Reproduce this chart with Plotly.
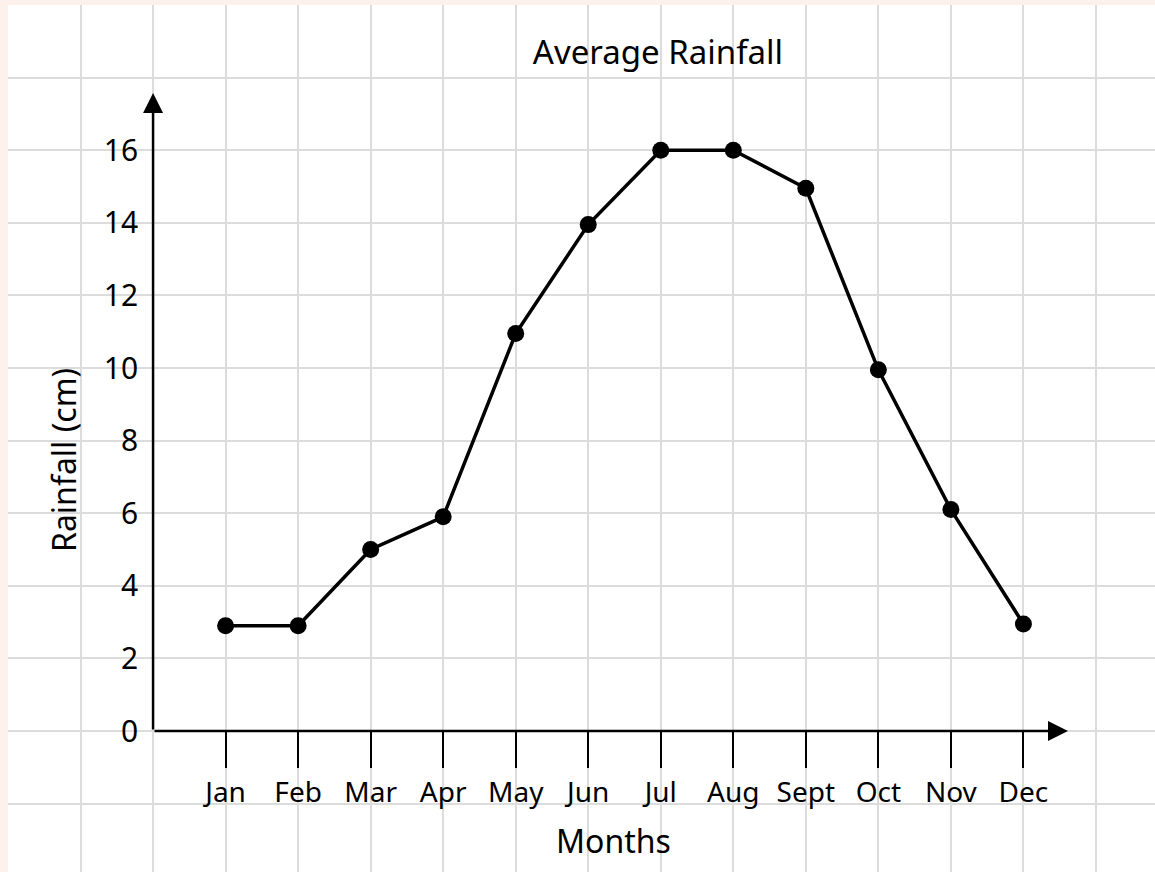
import plotly.graph_objects as go

# ---- data ----
months = ["Jan", "Feb", "Mar", "Apr", "May", "Jun", "Jul", "Aug", "Sept", "Oct", "Nov", "Dec"]
rainfall_cm = [2.9, 2.9, 5.0, 5.9, 10.95, 13.95, 16.0, 16.0, 14.95, 9.95, 6.1, 2.95]
y_tick_values = [0, 2, 4, 6, 8, 10, 12, 14, 16]
title_text = "Average Rainfall"
x_title_text = "Months"
y_title_text = "Rainfall (cm)"

# ---- layout geometry (pixels) ----
W, H = 1155, 872
ML, MT = 8, 5
PW, PH = W - ML, H - MT
UX = 72.53          # px per month (one grid square)
UY = 36.3           # px per rainfall unit (grid square = 2 units)
X0PX = ML + 2 * UX  # pixel of the y axis line
Y0PX = 731          # pixel of the x axis line
XEND_PX = 1068      # arrow tip of x axis
YTOP_PX = 93        # arrow tip of y axis
DOM_R_PX = 1085
DOM_T_PX = 80

FONT = "Noto Sans"

fig = go.Figure()

# invisible trace to activate the background grid subplot
fig.add_trace(go.Scatter(x=[0], y=[0], xaxis="x", yaxis="y", mode="markers",
                         marker=dict(opacity=0), hoverinfo="skip", showlegend=False))

# data line
fig.add_trace(go.Scatter(
    x=months, y=rainfall_cm, xaxis="x2", yaxis="y2",
    mode="lines+markers",
    line=dict(color="black", width=3.5),
    marker=dict(color="black", size=17),
    showlegend=False, cliponaxis=False,
))

grid_color = "#dcdcdc"
fig.update_layout(
    width=W, height=H,
    margin=dict(l=ML, r=0, t=MT, b=0, pad=0, autoexpand=False),
    paper_bgcolor="#fdf1ec",
    plot_bgcolor="rgba(0,0,0,0)",
    font=dict(family=FONT, color="black"),
    title=dict(text=title_text, x=658 / W, y=1 - 52 / H, xanchor="center", yanchor="middle",
               font=dict(size=33, family=FONT, color="black")),
    # background grid axes covering the whole page
    xaxis=dict(domain=[0, 1], range=[(ML - X0PX) / UX, (W - X0PX) / UX],
               tick0=0, dtick=1, showgrid=True, gridcolor=grid_color, gridwidth=2,
               showticklabels=False, zeroline=False, showline=False, ticks="", fixedrange=True,
               automargin=False),
    yaxis=dict(domain=[0, 1], range=[(Y0PX - H) / UY, (Y0PX - MT) / UY],
               tick0=0, dtick=2, showgrid=True, gridcolor=grid_color, gridwidth=2,
               showticklabels=False, zeroline=False, showline=False, ticks="", fixedrange=True,
               automargin=False),
    # data axes
    xaxis2=dict(domain=[(X0PX - ML) / PW, (DOM_R_PX - ML) / PW],
                type="category", categoryorder="array", categoryarray=months,
                range=[-1, (DOM_R_PX - X0PX) / UX - 1],
                anchor="y2", showgrid=False, zeroline=False, showline=False,
                ticks="outside", ticklen=36, tickwidth=1.5, tickcolor="black",
                tickfont=dict(size=28, family=FONT, color="black"), automargin=False),
    yaxis2=dict(domain=[(H - Y0PX) / PH, (H - DOM_T_PX) / PH],
                range=[0, (Y0PX - DOM_T_PX) / UY],
                anchor="x2", showgrid=False, zeroline=False, showline=False,
                tickvals=y_tick_values, ticks="", ticklabelstandoff=14,
                tickfont=dict(size=30, family=FONT, color="black"), automargin=False),
    shapes=[dict(type="rect", xref="paper", yref="paper", x0=0, x1=1, y0=0, y1=1,
                 fillcolor="white", line=dict(width=0), layer="below")],
)

# axis lines with arrowheads
x_tip = (XEND_PX - X0PX) / UX - 1
y_tip = (Y0PX - YTOP_PX) / UY
fig.add_annotation(x=x_tip, y=0, ax=-1, ay=0, xref="x2", yref="y2", axref="x2", ayref="y2",
                   text="", showarrow=True, arrowhead=2, arrowsize=1.6, arrowwidth=2.5,
                   arrowcolor="black", standoff=0)
fig.add_annotation(x=-1, y=y_tip, ax=-1, ay=0, xref="x2", yref="y2", axref="x2", ayref="y2",
                   text="", showarrow=True, arrowhead=2, arrowsize=1.6, arrowwidth=2.5,
                   arrowcolor="black", standoff=0)

# axis titles
fig.add_annotation(text=x_title_text, xref="paper", yref="paper",
                   x=(613 - ML) / PW, y=(H - 840) / PH, xanchor="center", yanchor="middle",
                   showarrow=False, font=dict(size=32, family=FONT, color="black"))
fig.add_annotation(text=y_title_text, xref="paper", yref="paper",
                   x=(63 - ML) / PW, y=(H - 460) / PH, xanchor="center", yanchor="middle",
                   textangle=-90, showarrow=False, font=dict(size=32, family=FONT, color="black"))

fig.write_html("out.html", config={"displayModeBar": False},
               post_script="document.body.style.margin='0';document.body.style.overflow='hidden';")
